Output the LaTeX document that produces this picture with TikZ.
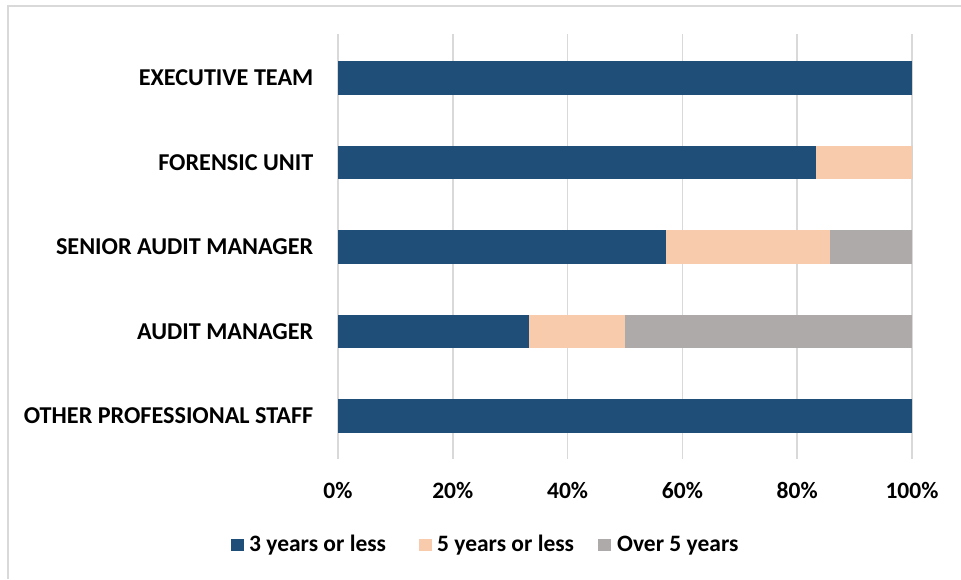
\documentclass[tikz,border=0pt]{standalone}
\usepackage{fontspec}
\setmainfont{Carlito}
\definecolor{barblue}{HTML}{1F4E79}
\definecolor{barpeach}{HTML}{F8CBAD}
\definecolor{bargray}{HTML}{AEAAAA}
\definecolor{gridgray}{HTML}{D9D9D9}
\definecolor{framegray}{HTML}{D9D9D9}
\tikzset{
  catlabel/.style={anchor=east, inner sep=0pt, font=\fontsize{24.2}{29}\selectfont\bfseries},
  ticklabel/.style={anchor=base, inner sep=0pt, font=\fontsize{23.5}{28}\selectfont\bfseries},
  legtext/.style={anchor=base west, inner sep=0pt, font=\fontsize{23.5}{28}\selectfont\bfseries},
  gridline/.style={draw=gridgray, line width=1.5pt},
}
\begin{document}
\begin{tikzpicture}[x=1pt,y=-1pt]
\useasboundingbox (0,0) rectangle (961,579);
\fill[white] (0,0) rectangle (961,579);
% frame
\draw[framegray, line width=2pt] (7.5,579) -- (7.5,5.5) -- (961,5.5);
% gridlines
\foreach \i/\g in {0/338,1/452.8,2/567.6,3/682.4,4/797.2,5/912}{
  \draw[gridline] (\g,34) -- (\g,459);
}
% axis labels
\foreach \i/\g/\t in {0/338/0\%,1/452.8/20\%,2/567.6/40\%,3/682.4/60\%,4/797.2/80\%,5/912/100\%}{
  \node[ticklabel] (tick\i) at (\g,498.3) {\t};
}
% bars: y-top, end of blue, end of peach
\def\xz{338}\def\xw{574}
\foreach \yt/\a/\b in {61/1/1, 145.7/0.8333/1, 230/0.5714/0.8571, 314.5/0.3333/0.5, 399/1/1}{
  \pgfmathsetmacro{\xa}{\xz+\a*\xw}
  \pgfmathsetmacro{\xb}{\xz+\b*\xw}
  \pgfmathsetmacro{\yb}{\yt+33.5}
  \fill[barblue] (\xz,\yt) rectangle (\xa,\yb);
  \fill[barpeach] (\xa,\yt) rectangle (\xb,\yb);
  \fill[bargray] (\xb,\yt) rectangle (912,\yb);
}
% category labels
\node[catlabel] (cat1) at (313.5,77.7) {EXECUTIVE TEAM};
\node[catlabel] (cat2) at (313.5,162.4) {FORENSIC UNIT};
\node[catlabel] (cat3) at (313.5,246.7) {SENIOR AUDIT MANAGER};
\node[catlabel] (cat4) at (313.5,331.2) {AUDIT MANAGER};
\node[catlabel] (cat5) at (313.5,415.7) {OTHER PROFESSIONAL STAFF};
% legend
\fill[barblue] (231,538.5) rectangle (244,551);
\node[legtext] (leg1) at (249,551) {3 years or less};
\fill[barpeach] (419,538.5) rectangle (432,551);
\node[legtext] (leg2) at (437,551) {5 years or less};
\fill[bargray] (598,538.5) rectangle (611,551);
\node[legtext] (leg3) at (617,551) {Over 5 years};
\end{tikzpicture}
\end{document}
